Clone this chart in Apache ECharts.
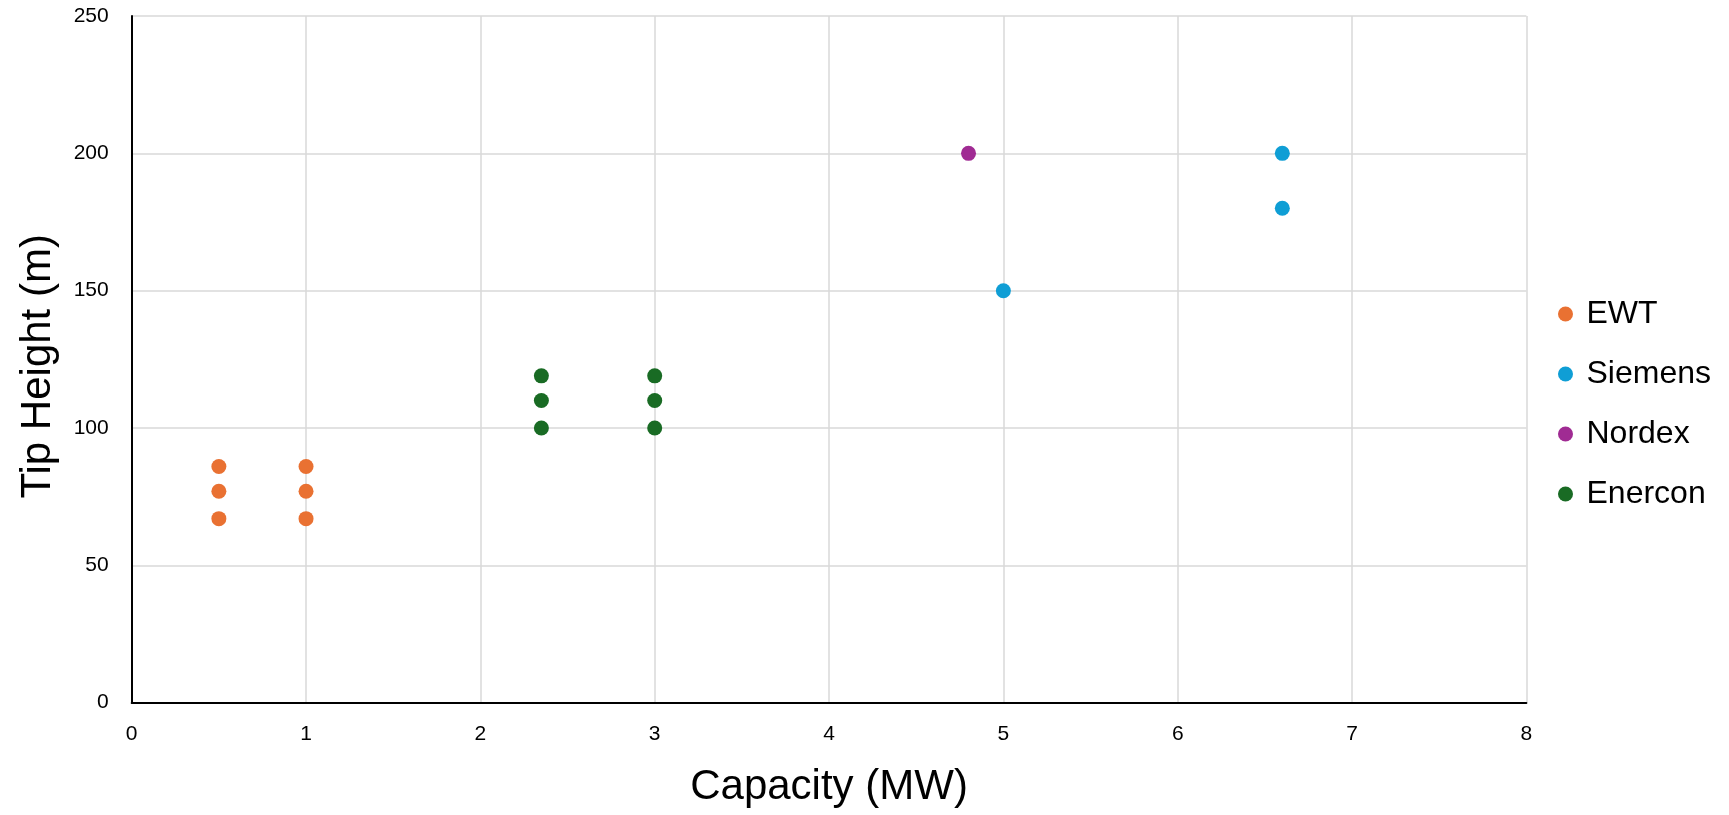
<!DOCTYPE html>
<html>
<head>
<meta charset="utf-8">
<script src="https://cdn.jsdelivr.net/npm/echarts@6/dist/echarts.min.js"></script>
<style>
html,body{margin:0;padding:0;background:#fff;}
#chart{width:1729px;height:815px;}
</style>
</head>
<body>
<div id="chart"></div>
<script>
const seriesNames = ['EWT', 'Siemens', 'Nordex', 'Enercon'];
const seriesColors = ['#E97132', '#0F9ED5', '#A02B93', '#196B24'];
const ewtData = [[0.5, 86], [0.5, 77], [0.5, 67], [1, 86], [1, 77], [1, 67]];
const siemensData = [[5, 150], [6.6, 180], [6.6, 200]];
const nordexData = [[4.8, 200]];
const enerconData = [[2.35, 119], [2.35, 110], [2.35, 100], [3, 119], [3, 110], [3, 100]];
const xTicks = [0, 1, 2, 3, 4, 5, 6, 7, 8];
const yTicks = [0, 50, 100, 150, 200, 250];
const xTitle = 'Capacity (MW)';
const yTitle = 'Tip Height (m)';

const allData = [ewtData, siemensData, nordexData, enerconData];
const font = '"Liberation Sans", Arial, sans-serif';

const chart = echarts.init(document.getElementById('chart'), null, {renderer: 'canvas'});
chart.setOption({
  animation: false,
  backgroundColor: '#ffffff',
  grid: {left: 131.7, right: 202.6, top: 16, bottom: 112.3, containLabel: false},
  xAxis: {
    type: 'value',
    min: xTicks[0], max: xTicks[xTicks.length - 1], interval: 1,
    name: xTitle, nameLocation: 'middle', nameGap: 64,
    nameTextStyle: {fontSize: 42, color: '#000', fontFamily: font},
    axisLine: {show: true, onZero: false, lineStyle: {color: '#000', width: 2}},
    axisTick: {show: false},
    axisLabel: {fontSize: 21, color: '#000', fontFamily: font, margin: 21},
    splitLine: {show: true, lineStyle: {color: '#D9D9D9', width: 1.5}}
  },
  yAxis: {
    type: 'value',
    min: yTicks[0], max: yTicks[yTicks.length - 1], interval: 50,
    name: yTitle, nameLocation: 'middle', nameGap: 72, nameRotate: 90,
    nameTextStyle: {fontSize: 42, color: '#000', fontFamily: font, padding: [0, 14, 0, 0]},
    axisLine: {show: true, onZero: false, lineStyle: {color: '#000', width: 2}},
    axisTick: {show: false},
    axisLabel: {fontSize: 21, color: '#000', fontFamily: font, margin: 23},
    splitLine: {show: true, lineStyle: {color: '#D9D9D9', width: 1.5}}
  },
  legend: {
    orient: 'vertical',
    left: 1553, top: 293,
    icon: 'circle',
    itemWidth: 32, itemHeight: 15,
    itemGap: 28,
    textStyle: {fontSize: 32, color: '#000', fontFamily: font, lineHeight: 32},
    data: seriesNames
  },
  series: seriesNames.map((n, i) => ({
    name: n,
    type: 'scatter',
    symbol: 'circle',
    symbolSize: 15,
    itemStyle: {color: seriesColors[i], opacity: 1},
    data: allData[i]
  }))
});
</script>
</body>
</html>
